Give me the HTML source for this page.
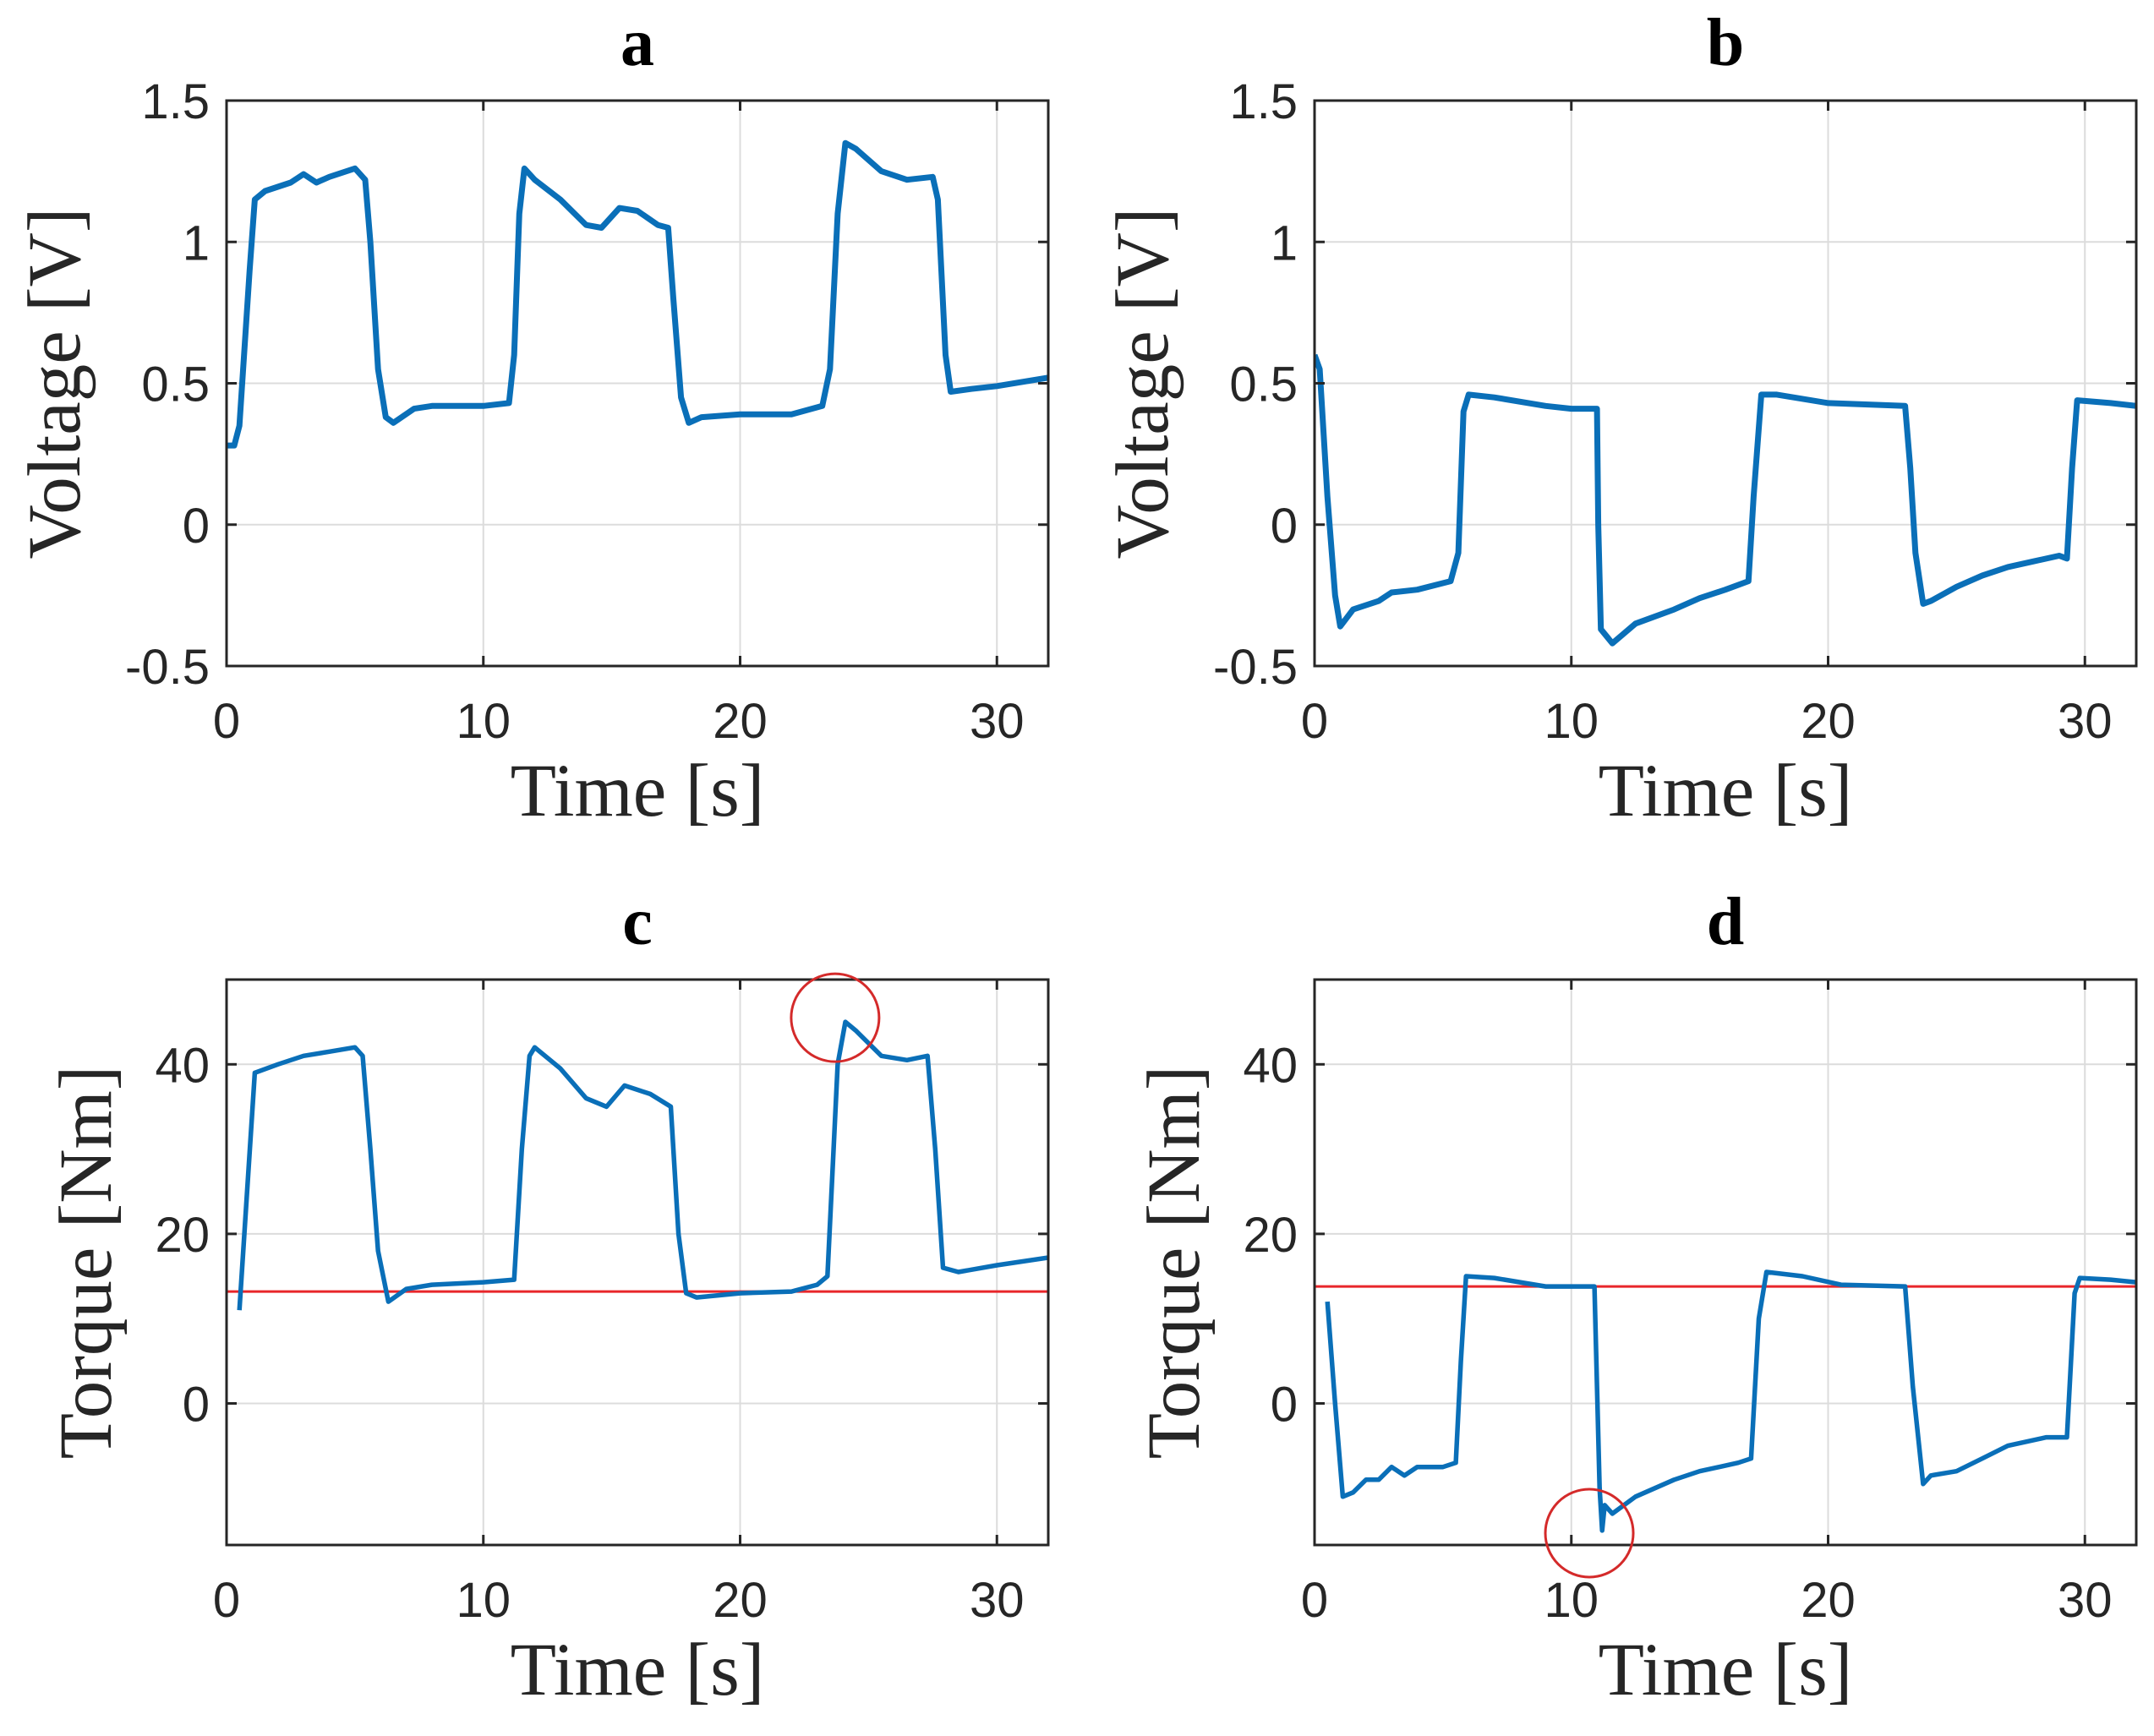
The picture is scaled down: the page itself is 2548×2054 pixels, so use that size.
<!DOCTYPE html>
<html><head><meta charset="utf-8"><style>
html,body{margin:0;padding:0;background:#fff;}
svg{display:block;}
.tick{font-family:"Liberation Sans",sans-serif;font-size:58px;fill:#262626;}
.lab{font-family:"Liberation Serif",serif;font-size:89px;fill:#262626;}
.ttl{font-family:"Liberation Serif",serif;font-size:80px;font-weight:bold;fill:#000;}
</style></head><body>
<svg id="fig" width="2548" height="2054" viewBox="0 0 2548 2054" xmlns="http://www.w3.org/2000/svg"></svg>
<script>
// Panel a: voltage
const tA = [0,0.3,0.5,0.9,1.1,1.5,2.5,3,3.5,4,5,5.4,5.6,5.9,6.2,6.5,7.3,8,10,11,11.2,11.4,11.6,12,13,14,14.6,15.3,16,16.8,17.2,17.4,17.7,18,18.5,20,22,23.2,23.5,23.8,24.1,24.5,25.5,26.5,27.5,27.7,28,28.2,29,30,32];
const vA = [0.28,0.28,0.35,0.9,1.15,1.18,1.21,1.24,1.21,1.23,1.26,1.22,1.0,0.55,0.38,0.36,0.41,0.42,0.42,0.43,0.6,1.1,1.26,1.22,1.15,1.06,1.05,1.12,1.11,1.06,1.05,0.8,0.45,0.36,0.38,0.39,0.39,0.42,0.55,1.1,1.35,1.33,1.25,1.22,1.23,1.15,0.6,0.47,0.48,0.49,0.52];
// Panel b: voltage
const tB = [0,0.2,0.5,0.8,1,1.5,2.5,3,4,5.3,5.6,5.8,6,7,9,10,11,11.05,11.15,11.6,12.5,14,15,16,16.9,17.1,17.4,18,20,23,23.2,23.4,23.7,24,25,26,27,28,29,29.3,29.5,29.7,31,32];
const vB = [0.6,0.55,0.1,-0.25,-0.36,-0.3,-0.27,-0.24,-0.23,-0.2,-0.1,0.4,0.46,0.45,0.42,0.41,0.41,0.0,-0.37,-0.42,-0.35,-0.30,-0.26,-0.23,-0.2,0.1,0.46,0.46,0.43,0.42,0.2,-0.1,-0.28,-0.27,-0.22,-0.18,-0.15,-0.13,-0.11,-0.12,0.2,0.44,0.43,0.42];
// Panel c: torque
const tC = [0.5,0.8,1.1,2,3,4,5,5.3,5.6,5.9,6.3,7,8,10,11.2,11.5,11.8,12.0,13,14,14.8,15.5,16.5,17.3,17.6,17.9,18.3,20,22,23,23.4,23.8,24.1,24.5,25.5,26.5,27.3,27.6,27.9,28.5,30,32];
const qC = [11,25,39,40,41,41.5,42,41,30,18,12,13.5,14,14.3,14.6,30,41,42,39.5,36,35,37.5,36.5,35,20,13,12.5,13,13.2,14,15,40,45,44,41,40.5,41,30,16,15.5,16.3,17.2];
const refC = [13.2];
// Panel d: torque
const tD = [0.5,0.8,1.1,1.5,2,2.5,3,3.5,4,5,5.5,5.7,5.9,7,8,9,10,10.9,11.1,11.2,11.3,11.6,12.5,14,15,16.5,17.0,17.3,17.6,19,20.5,23,23.3,23.7,24,25,26,27,28.5,29.3,29.6,29.8,31,32];
const qD = [12,0,-11,-10.5,-9,-9,-7.5,-8.5,-7.5,-7.5,-7,5,15,14.8,14.3,13.8,13.8,13.8,-10,-15,-12,-13,-11,-9,-8,-7,-6.5,10,15.5,15,14,13.8,2,-9.5,-8.5,-8,-6.5,-5,-4,-4,13,14.8,14.6,14.3];
const refD = [13.8];
const xTicks = [0,10,20,30];
const vTicks = [-0.5,0,0.5,1,1.5];
const vTickLabels = ["-0.5","0","0.5","1","1.5"];
const qTicks = [0,20,40];
const qTickLabels = ["0","20","40"];
const circC = [23.7, 45.5];
const circD = [10.7, -15.3];

const NS="http://www.w3.org/2000/svg";
const svg=document.getElementById('fig');
function mk(tag,attrs,parent){const e=document.createElementNS(NS,tag);for(const k in attrs)e.setAttribute(k,attrs[k]);(parent||svg).appendChild(e);return e;}

function panel(o){
  const g=mk('g',{});
  
  
  const X=v=>o.L+(v-0)/(32-0)*(o.R-o.L);
  const Y=v=>o.B-(v-o.ymin)/(o.ymax-o.ymin)*(o.B-o.T);
  xTicks.forEach(t=>{const l=mk('line',{x1:X(t),x2:X(t),y1:o.T,y2:o.B,stroke:'#dcdcdc','stroke-width':2},g);
    });
  o.yt.forEach(t=>{const l=mk('line',{x1:o.L,x2:o.R,y1:Y(t),y2:Y(t),stroke:'#dcdcdc','stroke-width':2},g);
    });
  const cp=mk('clipPath',{id:'clip'+o.id},g);mk('rect',{x:o.L,y:o.T,width:o.R-o.L,height:o.B-o.T},cp);
  if(o.ref){const r=mk('line',{x1:o.L,x2:o.R,y1:Y(o.ref[0]),y2:Y(o.ref[0]),stroke:'#e8262a','stroke-width':3},g);
    }
  const pts=o.t.map((t,i)=>X(t).toFixed(1)+','+Y(o.v[i]).toFixed(1)).join(' ');
  const p=mk('polyline',{points:pts,fill:'none',stroke:'#0a6fb8','stroke-width':o.sw,'stroke-linejoin':'round','clip-path':'url(#clip'+o.id+')'},g);
  
  const b=mk('rect',{x:o.L,y:o.T,width:o.R-o.L,height:o.B-o.T,fill:'none',stroke:'#262626','stroke-width':3},g);
  
  xTicks.forEach(t=>{mk('line',{x1:X(t),x2:X(t),y1:o.B,y2:o.B-12,stroke:'#262626','stroke-width':3},g);
    mk('line',{x1:X(t),x2:X(t),y1:o.T,y2:o.T+12,stroke:'#262626','stroke-width':3},g);
    const tx=mk('text',{x:X(t),y:o.B+85,'text-anchor':'middle',class:'tick'},g);tx.textContent=String(t);
    });
  o.yt.forEach((t,i)=>{mk('line',{x1:o.L,x2:o.L+12,y1:Y(t),y2:Y(t),stroke:'#262626','stroke-width':3},g);
    mk('line',{x1:o.R,x2:o.R-12,y1:Y(t),y2:Y(t),stroke:'#262626','stroke-width':3},g);
    const tx=mk('text',{x:o.L-20,y:Y(t)+21,'text-anchor':'end',class:'tick'},g);tx.textContent=o.ytl[i];
    });
  const xl=mk('text',{x:(o.L+o.R)/2,y:o.B+177,'text-anchor':'middle',class:'lab'},g);xl.textContent='Time [s]';
  
  const cy=(o.T+o.B)/2;
  const yl=mk('text',{x:o.ylx,y:cy,'text-anchor':'middle',class:'lab',transform:'rotate(-90 '+o.ylx+' '+cy+')'},g);yl.textContent=o.ylab;
  
  const tt=mk('text',{x:(o.L+o.R)/2,y:o.T-42,'text-anchor':'middle',class:'ttl'},g);tt.textContent=o.id;
  
  if(o.circ){const c=mk('circle',{cx:X(o.circ[0]),cy:Y(o.circ[1]),r:52,fill:'none',stroke:'#d42a2a','stroke-width':3},g);
    }
}
panel({id:'a',L:268,R:1240,T:119,B:788,ymin:-0.5,ymax:1.5,yt:vTicks,ytl:vTickLabels,t:tA,v:vA,ylab:'Voltage [V]',ylx:94,sw:7});
panel({id:'b',L:1555,R:2527,T:119,B:788,ymin:-0.5,ymax:1.5,yt:vTicks,ytl:vTickLabels,t:tB,v:vB,ylab:'Voltage [V]',ylx:1381,sw:7});
panel({id:'c',L:268,R:1240,T:1159,B:1828,ymin:-16.7,ymax:50,yt:qTicks,ytl:qTickLabels,t:tC,v:qC,ylab:'Torque [Nm]',ylx:131,ref:refC,circ:circC,sw:5.5});
panel({id:'d',L:1555,R:2527,T:1159,B:1828,ymin:-16.7,ymax:50,yt:qTicks,ytl:qTickLabels,t:tD,v:qD,ylab:'Torque [Nm]',ylx:1418,ref:refD,circ:circD,sw:5.5});
</script>
</body></html>
